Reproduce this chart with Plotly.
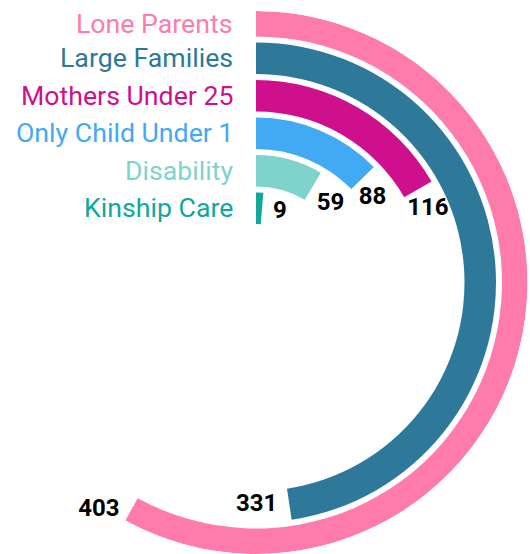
import math
import plotly.graph_objects as go

# Families affected, by group
categories = ["Lone Parents", "Large Families", "Mothers Under 25",
              "Only Child Under 1", "Disability", "Kinship Care"]
counts = [403, 331, 116, 88, 59, 9]
colors = ["#FF7BAC", "#2E7899", "#CF108C", "#42A9F5", "#7ED3CB", "#10A89A"]

# count that would close a full circle
FULL_TURN = 695

W, H = 530, 554
CX, CY = 256, 282.5          # centre of the rings, in pixels
R_OUT = 271.5                # radial axis max, in pixels
RING_PITCH = 37.5
RING_THICK = 31.5
R_INNERMOST = 58.5
SECTOR = [-125, 90]

FONT = "Roboto, Liberation Sans, Arial, sans-serif"

n = len(categories)
inner = [R_INNERMOST + (n - 1 - i) * RING_PITCH for i in range(n)]
outer = [min(r + RING_THICK, R_OUT) for r in inner]
thick = [o - i for o, i in zip(outer, inner)]
mid = [(o + i) / 2 for o, i in zip(outer, inner)]
sweep = [v * 360 / FULL_TURN for v in counts]


def to_xy(r, th):
    """polar (clockwise from top) -> screen offset from centre"""
    a = math.radians(th)
    return r * math.sin(a), -r * math.cos(a)


def to_polar(x, y):
    return math.hypot(x, y), math.degrees(math.atan2(x, -y))


fig = go.Figure()

fig.add_trace(go.Barpolar(
    r=thick, base=inner,
    theta=[s / 2 for s in sweep], width=sweep,
    marker=dict(color=colors, line=dict(width=0)),
    hoverinfo="skip",
))

# value labels at the end of each arc
for v, s, rm in zip(counts, sweep, mid):
    x, y = to_xy(rm, s)
    if s < 20:
        pos = "middle right"; x += 11; y += 3
    elif s < 40:
        pos = "bottom right"; x += 4; y += 6
    elif s < 150:
        pos = "bottom center"; x += 10; y += 8
    else:
        pos = "middle left"; x -= 12; y += 1
    r, th = to_polar(x, y)
    fig.add_trace(go.Scatterpolar(
        r=[r], theta=[th], mode="text", text=[str(v)],
        textposition=pos, cliponaxis=False,
        textfont=dict(family=FONT, size=24, color="#000000", weight="bold"),
        hoverinfo="skip",
    ))

# group names, right-aligned to the left of where each ring starts
annotations = []
for name, col, rm in zip(categories, colors, mid):
    annotations.append(dict(
        xref="paper", yref="paper",
        x=(CX - 21) / W, y=(H - (CY - rm)) / H,
        xanchor="right", yanchor="middle",
        text=name, showarrow=False,
        font=dict(family=FONT, size=26.7, color=col),
    ))

left_frac = -math.cos(math.radians(SECTOR[0]))
fig.update_layout(
    width=W, height=H,
    margin=dict(l=0, r=0, t=0, b=0),
    paper_bgcolor="white", plot_bgcolor="white",
    showlegend=False,
    annotations=annotations,
    polar=dict(
        domain=dict(
            x=[(CX - left_frac * R_OUT) / W, (CX + R_OUT) / W],
            y=[(H - (CY + R_OUT)) / H, (H - (CY - R_OUT)) / H],
        ),
        sector=SECTOR,
        bgcolor="white",
        radialaxis=dict(range=[0, R_OUT], visible=False, showgrid=False),
        angularaxis=dict(rotation=90, direction="clockwise", visible=False,
                         showgrid=False),
    ),
)

fig.write_html("out.html")
